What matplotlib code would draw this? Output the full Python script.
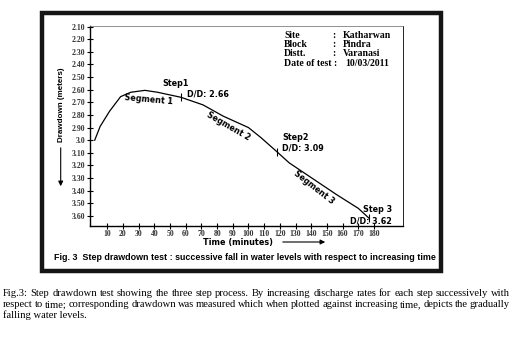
import matplotlib
matplotlib.use("Agg")
import matplotlib.pyplot as plt
from matplotlib.patches import Rectangle, FancyArrowPatch

# drawdown curve (time in minutes, drawdown in meters)
time_min = [2, 5.5, 11.5, 18.5, 25, 34, 42, 57, 71, 84, 100, 108, 118, 126, 156, 170, 177]
drawdown = [3.00, 2.89, 2.77, 2.655, 2.62, 2.605, 2.62, 2.66, 2.72, 2.81, 2.90, 2.98, 3.09, 3.18, 3.43, 3.54, 3.62]
arrow_end = (186, 3.70)

# step points with their drawdown values
step_names = ["Step1", "Step2", "Step 3"]
step_time = [57, 118, 177]
step_dd = [2.66, 3.09, 3.62]

y_ticks = [2.10, 2.20, 2.30, 2.40, 2.50, 2.60, 2.70, 2.80, 2.90, 3.0,
           3.10, 3.20, 3.30, 3.40, 3.50, 3.60]
y_ticklabels = ["2.10", "2.20", "2.30", "2.40", "2.50", "2.60", "2.70", "2.80",
                "2.90", "3.0", "3.10", "3.20", "3.30", "3.40", "3.50", "3.60"]
x_ticks = list(range(10, 190, 10))

info_keys = ["Site", "Block", "Distt.", "Date of test :"]
info_vals = ["Katharwan", "Pindra", "Varanasi", "10/03/2011"]

fig_title = "Fig. 3  Step drawdown test : successive fall in water levels with respect to increasing time"
caption_lines = [
    "Fig.3: Step drawdown test showing the three step process. By increasing discharge rates for each step successively with",
    "respect to time; corresponding drawdown was measured which when plotted against increasing time, depicts the gradually",
    "falling water levels.",
]

W, H = 520, 345
fig = plt.figure(figsize=(W / 100, H / 100), dpi=100)
rend = fig.canvas.get_renderer()


def px(x, y):
    return x / W, 1 - y / H


def ftext(x, y, s, **kw):
    fx, fy = px(x, y)
    return fig.text(fx, fy, s, **kw)


def justified(x_left, x_right, y, line, **kw):
    # spread the words so the line fills x_left..x_right
    words = line.split()
    objs = [ftext(x_left, y, w, ha="left", **kw) for w in words]
    widths = [o.get_window_extent(rend).width for o in objs]
    gap = (x_right - x_left - sum(widths)) / (len(words) - 1)
    x = x_left
    for o, w in zip(objs, widths):
        o.set_position(px(x, y))
        x += w + gap


# thick outer frame
x0, y0 = px(42, 271)
fig.patches.append(Rectangle((x0, y0), (441 - 42) / W, (271 - 13) / H,
                             transform=fig.transFigure, fill=False,
                             edgecolor="#151515", linewidth=3.2))

l, b = px(90, 226)
r, t = px(403, 26)
ax = fig.add_axes([l, b, r - l, t - b])
ax.set_xlim(-1, 198.5)
ax.set_ylim(3.68, 2.095)

ax.plot(time_min, drawdown, color="black", linewidth=0.9)
ax.annotate("", xy=arrow_end, xytext=(time_min[-1], drawdown[-1]),
            arrowprops=dict(arrowstyle="-|>", color="black", lw=0.9,
                            mutation_scale=7, shrinkA=0, shrinkB=0))
ax.plot(step_time, step_dd, linestyle="none", marker="|", markersize=6,
        color="black", markeredgewidth=0.8)

ax.set_yticks(y_ticks)
ax.set_yticklabels(y_ticklabels)
ax.set_xticks(x_ticks)
ax.tick_params(direction="inout", length=4, width=0.8, labelsize=5.6,
               colors="black")
ax.tick_params(axis="x", pad=0.8)
ax.tick_params(axis="y", pad=1.2)
for lab in ax.get_xticklabels() + ax.get_yticklabels():
    lab.set_family("Liberation Serif")
    lab.set_fontweight("bold")
    lab.set_color("#333333")

ax.spines["left"].set_linewidth(1.0)
ax.spines["bottom"].set_linewidth(1.0)
ax.spines["top"].set_linewidth(0.5)
ax.spines["right"].set_linewidth(0.6)
ax.spines["top"].set_color("#666666")
ax.spines["top"].set_linestyle((0, (1, 1)))

# step and segment labels
lab_kw = dict(fontsize=5.8, fontweight="bold", family="DejaVu Sans",
              va="center", ha="left")
ftext(162, 84, step_names[0], **lab_kw)
ftext(187, 94, "D/D: %.2f" % step_dd[0], **lab_kw)
ftext(282, 137, step_names[1], **lab_kw)
ftext(282, 148, "D/D: %.2f" % step_dd[1], **lab_kw)
ftext(363, 210, step_names[2], **lab_kw)
ftext(350, 221, "D/D: %.2f" % step_dd[2], **lab_kw)

seg_kw = dict(fontsize=5.8, fontweight="bold", family="DejaVu Sans",
              va="center", ha="center", rotation_mode="anchor")
ftext(149, 99.5, "Segment 1", rotation=-5, **seg_kw)
ftext(228, 126, "Segment 2", rotation=-30, **seg_kw)
ftext(314, 187.5, "Segment 3", rotation=-38, **seg_kw)

# site info block
info_kw = dict(fontsize=7, fontweight="bold", family="Liberation Serif",
               va="center")
for i, (k, v) in enumerate(zip(info_keys, info_vals)):
    yy = 35 + i * 9.4
    ftext(284, yy, k, ha="left", **info_kw)
    if i < 3:
        ftext(332, yy, ":", ha="left", **info_kw)
    ftext(343 if i < 3 else 345, yy, v, ha="left", **info_kw)

# axis labels with direction arrows
ftext(61.5, 105, "Drawdown (meters)", rotation=90, fontsize=5.8,
      fontweight="bold", family="Liberation Sans", ha="center", va="center")
fig.patches.append(FancyArrowPatch(
    px(60.7, 145), px(60.7, 189), transform=fig.transFigure,
    arrowstyle="-|>", mutation_scale=7, color="black", lw=0.8))
ftext(238, 242, "Time (minutes)", fontsize=5.9, fontweight="bold",
      family="DejaVu Sans", ha="center", va="center")
fig.patches.append(FancyArrowPatch(
    px(280, 242), px(328, 242), transform=fig.transFigure,
    arrowstyle="-|>", mutation_scale=7, color="black", lw=0.8))

# figure title inside the frame, sized to span 53..436 px
title = ftext(244.5, 257, fig_title, fontsize=8, fontweight="bold",
              family="Liberation Sans", ha="center", va="center")
tw = title.get_window_extent(rend).width
title.set_fontsize(8 * 382 / tw)

for i, line in enumerate(caption_lines):
    cap_kw = dict(fontsize=7.6, family="Liberation Serif", va="center",
                  color="black")
    if i < len(caption_lines) - 1:
        justified(3, 510, 294 + i * 10.8, line, **cap_kw)
    else:
        ftext(3, 294 + i * 10.8, line, ha="left", **cap_kw)

fig.savefig("out.png", dpi=100)
